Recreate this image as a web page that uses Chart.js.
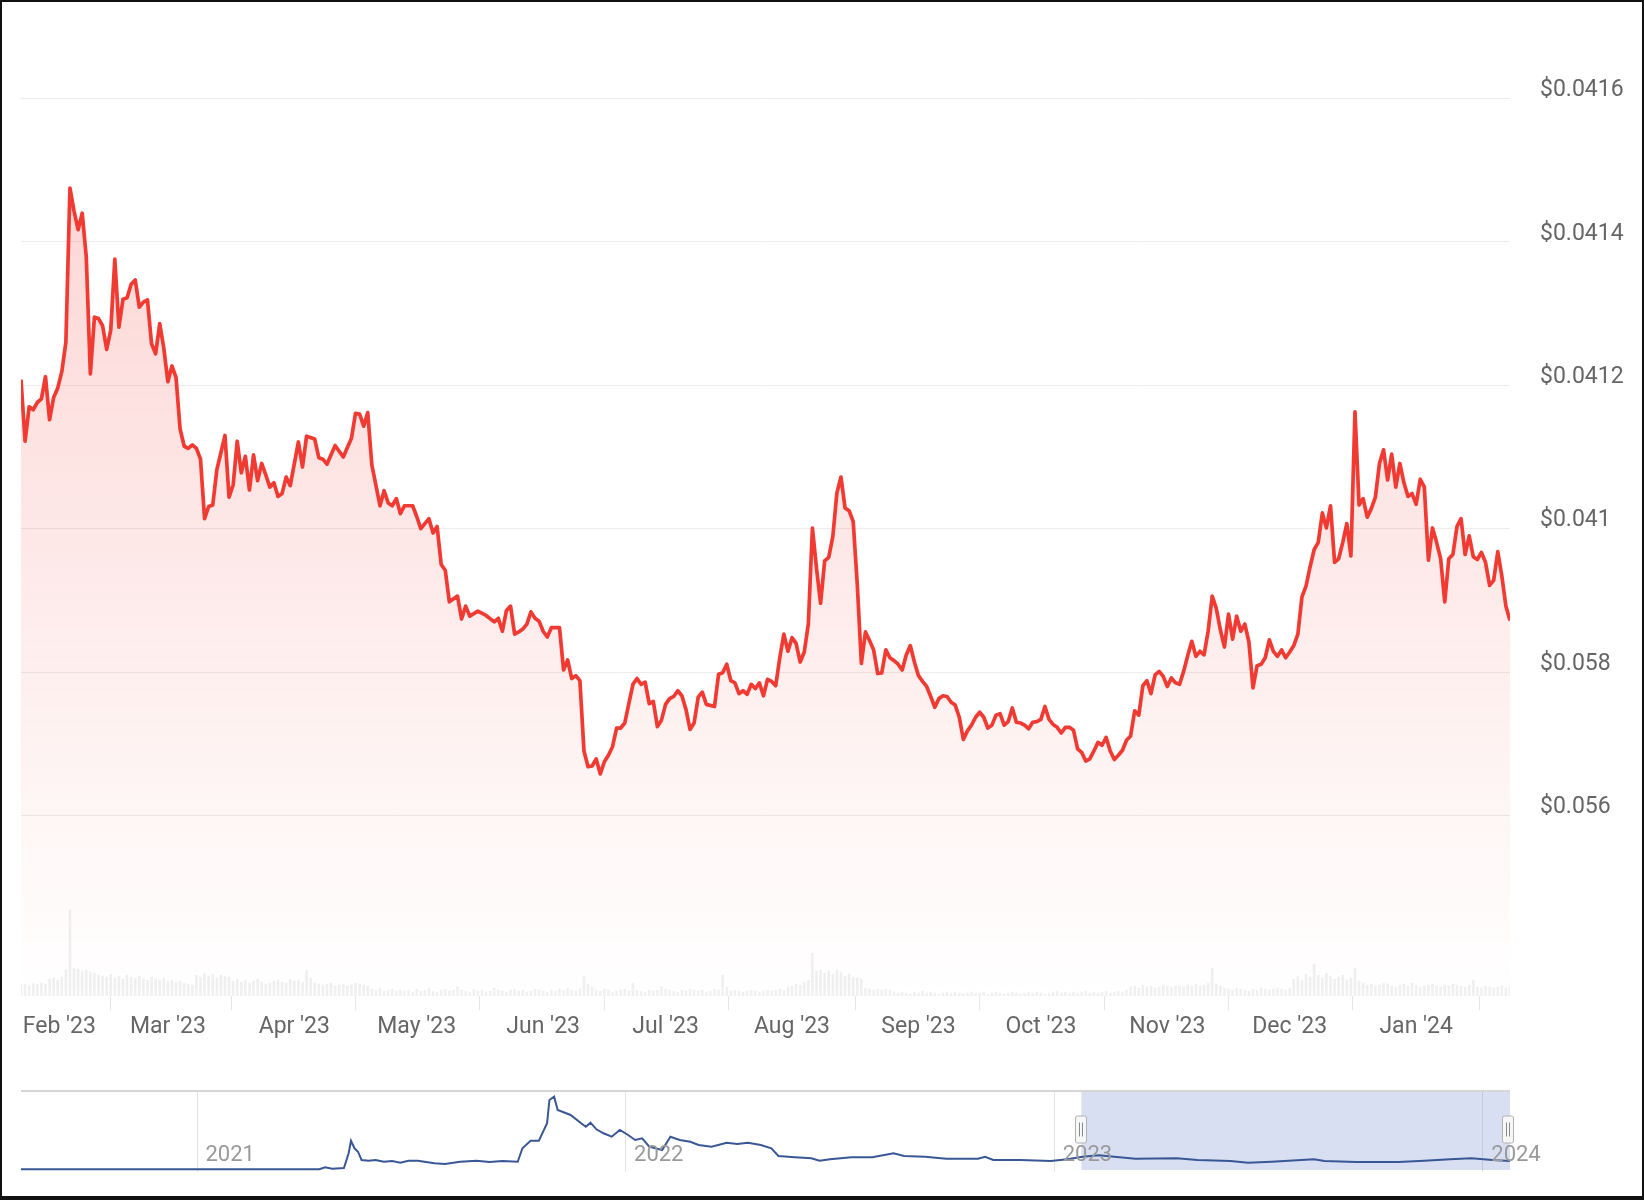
<!DOCTYPE html>
<html>
<head>
<meta charset="utf-8">
<script src="https://cdn.jsdelivr.net/npm/chart.js@4.4.1/dist/chart.umd.min.js"></script>
<style>
  html, body { margin: 0; padding: 0; background: #fff; }
  body { position: relative; width: 1644px; height: 1200px; overflow: hidden; }
  .wrap { position: absolute; left: 0; width: 1644px; }
  #mainWrap { top: 0; height: 1050px; }
  #navWrap { top: 1078px; height: 122px; }
  #frame {
    position: absolute; left: 0; top: 0; width: 1644px; height: 1200px;
    box-sizing: border-box; border: 2px solid #111; border-bottom-width: 4px;
    pointer-events: none;
  }
</style>
</head>
<body>
<div class="wrap" id="mainWrap"><canvas id="priceChart"></canvas></div>
<div class="wrap" id="navWrap"><canvas id="navChart"></canvas></div>
<div id="frame"></div>
<script>
// day numbers are counted from 1 Jan 2023 (day 0)
const priceDays = [
  23, 24, 25, 26, 27, 28, 29, 30, 31, 32, 33, 34, 35, 36, 37, 38, 39, 40, 41, 42,
  43, 44, 45, 46, 47, 48, 49, 50, 51, 52, 53, 54, 55, 56, 57, 58, 59, 60, 61, 62,
  63, 64, 65, 66, 67, 68, 69, 70, 71, 72, 73, 74, 75, 76, 77, 78, 79, 80, 81, 82,
  83, 84, 85, 86, 87, 88, 89, 91, 92, 93, 95, 96, 97, 98, 100, 102, 104, 105, 106, 107,
  108, 109, 111, 112, 113, 114, 115, 116, 117, 119, 120, 121, 123, 124, 125, 126, 127, 128, 130, 131,
  132, 133, 135, 137, 139, 140, 141, 142, 143, 144, 145, 146, 147, 148, 149, 150, 151, 152, 153, 155,
  156, 157, 158, 159, 160, 161, 162, 163, 164, 165, 166, 167, 168, 169, 170, 171, 172, 173, 174, 175,
  176, 177, 178, 179, 180, 181, 182, 183, 184, 185, 186, 187, 188, 189, 190, 191, 193, 194, 195, 196,
  197, 198, 199, 200, 201, 202, 203, 204, 205, 206, 207, 208, 209, 210, 211, 212, 213, 214, 215, 216,
  217, 218, 219, 220, 221, 222, 223, 224, 225, 226, 227, 228, 229, 230, 231, 232, 233, 234, 235, 236,
  237, 238, 239, 240, 241, 242, 243, 244, 245, 246, 247, 248, 249, 250, 251, 252, 253, 254, 255, 256,
  257, 258, 259, 260, 261, 262, 263, 264, 265, 266, 267, 268, 269, 270, 271, 272, 273, 274, 275, 276,
  277, 278, 279, 280, 281, 282, 283, 284, 285, 286, 287, 288, 289, 290, 291, 292, 293, 294, 295, 296,
  297, 298, 299, 300, 301, 302, 303, 304, 305, 306, 307, 308, 309, 310, 311, 312, 313, 314, 315, 316,
  317, 318, 319, 320, 321, 322, 323, 324, 325, 326, 327, 328, 329, 330, 331, 332, 333, 334, 335, 336,
  337, 338, 339, 340, 341, 342, 343, 344, 345, 346, 347, 348, 349, 350, 351, 352, 353, 354, 355, 356,
  357, 358, 359, 360, 361, 362, 363, 364, 365, 366, 367, 368, 369, 370, 371, 372, 373, 374, 375, 376,
  377, 378, 379, 380, 381, 382, 383, 384, 385, 386, 387, 388
];
const prices = [
  0.041208, 0.041122, 0.04117, 0.041166, 0.041176, 0.041181, 0.041212, 0.041152, 0.041183, 0.041196,
  0.041219, 0.04126, 0.041475, 0.041443, 0.041417, 0.04144, 0.041379, 0.041216, 0.041295, 0.041293,
  0.041283, 0.04125, 0.041277, 0.041376, 0.041281, 0.04132, 0.041322, 0.041341, 0.041347, 0.041309,
  0.041316, 0.041319, 0.041258, 0.041244, 0.041286, 0.041252, 0.041205, 0.041227, 0.041211, 0.041139,
  0.041115, 0.041112, 0.041117, 0.041112, 0.041097, 0.041014, 0.041031, 0.041033, 0.041082, 0.041106,
  0.04113, 0.041044, 0.041061, 0.041122, 0.041078, 0.041101, 0.041054, 0.041103, 0.041067, 0.041091,
  0.041075, 0.041058, 0.041064, 0.041045, 0.041049, 0.041072, 0.04106, 0.041121, 0.041086, 0.041129,
  0.041125, 0.041099, 0.041097, 0.04109, 0.041116, 0.0411, 0.041126, 0.041161, 0.04116, 0.041143,
  0.041162, 0.041089, 0.041032, 0.041053, 0.041036, 0.041032, 0.041042, 0.041021, 0.041032, 0.041032,
  0.041017, 0.041, 0.041014, 0.040994, 0.041003, 0.04095, 0.040942, 0.040898, 0.040906, 0.040874,
  0.040892, 0.040878, 0.040885, 0.040879, 0.04087, 0.040875, 0.040857, 0.040886, 0.040892, 0.040853,
  0.040856, 0.04086, 0.040867, 0.040884, 0.040875, 0.040871, 0.040857, 0.040849, 0.040862, 0.040862,
  0.040803, 0.040817, 0.040791, 0.040795, 0.040788, 0.04069, 0.040668, 0.040669, 0.040679, 0.040658,
  0.040675, 0.040684, 0.040696, 0.040722, 0.040722, 0.040729, 0.040756, 0.040783, 0.040791, 0.040783,
  0.040786, 0.040756, 0.040759, 0.040724, 0.040733, 0.040755, 0.040763, 0.040766, 0.040774, 0.040767,
  0.040748, 0.04072, 0.040729, 0.040765, 0.040772, 0.040755, 0.040752, 0.040797, 0.040799, 0.040811,
  0.040788, 0.040785, 0.04077, 0.040774, 0.040769, 0.040783, 0.040777, 0.040785, 0.040767, 0.04079,
  0.040787, 0.040781, 0.04082, 0.040853, 0.040829, 0.040848, 0.04084, 0.040814, 0.040828, 0.040867,
  0.041001, 0.040945, 0.040896, 0.040955, 0.04096, 0.040989, 0.04105, 0.041072, 0.041029, 0.041025,
  0.04101, 0.040922, 0.040812, 0.040856, 0.040844, 0.040831, 0.040798, 0.040799, 0.040831, 0.04082,
  0.040816, 0.040811, 0.040803, 0.040824, 0.040837, 0.040814, 0.040795, 0.040787, 0.04078, 0.040766,
  0.040751, 0.040763, 0.040767, 0.040766, 0.040758, 0.040754, 0.040737, 0.040706, 0.040718, 0.040726,
  0.040737, 0.040744, 0.040737, 0.040722, 0.040726, 0.04074, 0.040742, 0.040726, 0.040731, 0.04075,
  0.04073, 0.040729, 0.040726, 0.040721, 0.04073, 0.040731, 0.040734, 0.040752, 0.040734, 0.040727,
  0.040723, 0.040715, 0.040723, 0.040723, 0.040719, 0.040693, 0.040688, 0.040676, 0.040679, 0.04069,
  0.040702, 0.040698, 0.040709, 0.04069, 0.040678, 0.040684, 0.040691, 0.040705, 0.040711, 0.040746,
  0.04074, 0.040781, 0.040788, 0.04077, 0.040796, 0.040801, 0.040794, 0.04078, 0.040792, 0.040785,
  0.040783, 0.040801, 0.040823, 0.040843, 0.040822, 0.040829, 0.040824, 0.040857, 0.040906, 0.040889,
  0.040859, 0.040835, 0.040881, 0.040846, 0.040878, 0.040857, 0.040867, 0.040842, 0.040778, 0.040809,
  0.040811, 0.04082, 0.040845, 0.040829, 0.040822, 0.040831, 0.04082, 0.040828, 0.040837, 0.040853,
  0.040905, 0.04092, 0.040947, 0.040971, 0.040981, 0.041022, 0.041001, 0.041032, 0.040953, 0.040958,
  0.040981, 0.041007, 0.040962, 0.041163, 0.041033, 0.041042, 0.041016, 0.041028, 0.041044, 0.041091,
  0.04111, 0.041068, 0.041104, 0.041058, 0.041091, 0.041064, 0.041045, 0.041049, 0.041034, 0.041069,
  0.041058, 0.040956, 0.041001, 0.040981, 0.040958, 0.040898, 0.040958, 0.040964, 0.041003, 0.041014,
  0.040964, 0.04099, 0.040961, 0.040957, 0.040967, 0.040953, 0.040921, 0.040928, 0.040968, 0.040934,
  0.040892, 0.040872
];

// daily volume, first value is day 23
const volumeStartDay = 23;
const volumes = [
  110, 120, 105, 125, 115, 130, 120, 170, 180, 160, 190,
  260, 860, 280, 270, 250, 260, 240, 230,
  210, 200, 190, 220, 180, 200, 170, 210, 190, 180, 200, 170, 160, 190,
  170, 160, 180, 150, 160, 140, 150, 130, 120, 110,
  210, 190, 230, 200, 220, 180, 210, 200, 190,
  150, 170, 140, 160, 130, 150, 170, 140, 120, 130, 150, 160, 140, 130, 170, 150, 160, 140,
  260, 180,
  130, 120, 110, 120, 130, 100, 110, 120, 100, 110, 130, 120, 110, 100,
  70, 60, 80, 50, 60, 70, 50, 60,
  50, 60, 40, 70, 50, 60, 80, 50, 40, 60, 70, 50, 60, 90,
  60, 50, 40, 70, 50, 60, 40, 50, 80, 60, 50, 40, 60, 70, 50,
  60, 40, 50, 70, 60, 50, 40, 60, 50, 70, 60, 80, 60, 50, 70,
  200, 120, 90,
  60, 50, 70, 60, 40, 50, 60, 70, 50, 130, 60, 50, 40, 60, 50, 60, 90, 70, 60, 50,
  40, 60, 50, 70, 60, 50, 60, 40, 50, 70, 60,
  210, 90,
  50, 60, 50, 40, 50, 60, 50, 40, 50, 60, 50, 60, 70, 60,
  90, 100, 120, 110, 140, 160,
  430, 250, 260, 230, 250, 220, 260, 240, 200, 220, 190, 180, 170,
  80, 70, 60, 70, 60, 70, 60,
  40, 30, 40, 30, 20, 40, 30, 50, 30, 40, 30, 20, 30, 40,
  30, 40, 30, 20, 30, 40, 30, 30, 40, 20, 30, 40, 30, 20, 30,
  40, 30, 20, 30, 40, 30, 40, 30, 20, 30, 40, 50, 30, 40, 30,
  40, 30, 40, 50, 30, 40, 30, 40, 50, 30, 40, 50, 40, 60,
  90, 100, 80, 110, 90, 100, 80, 90, 110, 100, 90, 100,
  100, 90, 110, 100, 120, 100, 110, 130,
  280, 120, 100,
  80, 70, 60, 80, 70, 60, 50, 70, 60, 80, 70, 60, 70, 80, 70, 60, 80,
  170, 200, 160, 220, 190, 320, 210, 180, 230, 200, 170, 190, 210, 160, 180,
  280, 150,
  130, 110, 120, 100, 110, 130, 120, 100, 90, 110, 120, 100, 130, 110, 90, 100, 110, 120, 100, 90,
  110, 100, 120, 110, 100, 90, 110,
  160,
  90, 80, 100, 90, 80, 90, 100, 80, 90
];

const monthDays = [31, 59, 90, 120, 151, 181, 212, 243, 273, 304, 334, 365];
// the first label is pushed right a little so it stays inside the plot, as in the source
const monthLabels = ["  Feb '23", "Mar '23", "Apr '23", "May '23", "Jun '23", "Jul '23",
  "Aug '23", "Sep '23", "Oct '23", "Nov '23", "Dec '23", "Jan '24"];

const priceTicks = [0.0406, 0.0408, 0.041, 0.0412, 0.0414, 0.0416];
const priceTickLabels = ['$0.056', '$0.058', '$0.041', '$0.0412', '$0.0414', '$0.0416'];

// overview strip (navigator) - whole history
const navDays = [
  -880, -626, -621, -615, -605, -601, -599, -596, -593, -590, -584, -578, -571, -564, -557, -550,
  -542, -528, -519, -506, -492, -481, -470, -457, -453, -446, -439, -432, -430, -426, -423, -419,
  -412, -403, -399, -395, -390, -384, -377, -370, -363, -357, -351, -345, -334, -327, -319, -310,
  -303, -292, -279, -270, -261, -250, -241, -235, -221, -207, -200, -191, -173, -155, -137, -128,
  -110, -92, -65, -59, -52, -29, -3, 11, 24, 38, 51, 69, 104, 122, 150, 165,
  185, 221, 230, 257, 293, 315, 337, 355, 373, 388
];
const navPrices = [
  0.0092, 0.0092, 0.016, 0.0112, 0.0136, 0.0636, 0.1064, 0.0806, 0.069, 0.0408, 0.0384, 0.0408, 0.035, 0.0374, 0.0316, 0.0384,
  0.0384, 0.0296, 0.0272, 0.035, 0.0384, 0.034, 0.0374, 0.035, 0.0806, 0.1064, 0.1064, 0.1656, 0.2448, 0.256, 0.2108, 0.205,
  0.1938, 0.1656, 0.154, 0.1676, 0.1452, 0.1316, 0.12, 0.1428, 0.1258, 0.1088, 0.1146, 0.086, 0.0748, 0.12, 0.1088, 0.103,
  0.0918, 0.086, 0.0996, 0.0952, 0.0996, 0.0918, 0.0806, 0.0544, 0.05, 0.0466, 0.0384, 0.0432, 0.05, 0.05, 0.0636, 0.0544,
  0.052, 0.0452, 0.0452, 0.052, 0.0408, 0.0408, 0.0374, 0.0432, 0.052, 0.0568, 0.052, 0.0452, 0.0466, 0.0408, 0.0374, 0.0316,
  0.035, 0.0432, 0.0374, 0.034, 0.034, 0.0384, 0.0432, 0.0466, 0.0408, 0.0374
];
const yearDays = [-730, -365, 0, 365];
const yearLabels = ['2021', '2022', '2023', '2024'];
const selectedRange = [23, 388];

Chart.defaults.font.family = 'Roboto, "Noto Sans", sans-serif';
Chart.defaults.animation = false;

const textGray = '#666666';

new Chart(document.getElementById('priceChart'), {
  type: 'line',
  data: {
    datasets: [{
      type: 'line',
      data: priceDays.map((d, i) => ({ x: d, y: prices[i] })),
      yAxisID: 'y',
      borderColor: '#f03a32',
      borderWidth: 3.7,
      borderJoinStyle: 'round',
      pointRadius: 0,
      tension: 0,
      fill: 'start',
      backgroundColor: (ctx) => {
        const area = ctx.chart.chartArea;
        if (!area) return 'rgba(240,58,50,0.1)';
        const g = ctx.chart.ctx.createLinearGradient(0, area.top, 0, area.bottom);
        g.addColorStop(0, 'rgba(240,58,50,0.24)');
        g.addColorStop(1, 'rgba(240,58,50,0)');
        return g;
      },
      order: 0
    }, {
      type: 'bar',
      data: volumes.map((v, i) => ({ x: volumeStartDay + i, y: v })),
      yAxisID: 'vol',
      backgroundColor: 'rgba(0,0,0,0.06)',
      barThickness: 2,
      order: 1
    }]
  },
  options: {
    responsive: true,
    maintainAspectRatio: false,
    // the right axis adds about 44px on top for its labels
    layout: { padding: { left: 21, top: 0, right: 0, bottom: 0 } },
    plugins: { legend: { display: false }, tooltip: { enabled: false } },
    scales: {
      x: {
        type: 'linear',
        min: 23,
        max: 388,
        offset: false,
        border: { display: false },
        grid: { drawOnChartArea: false, drawTicks: true, tickLength: 14, color: '#e6e6e6' },
        ticks: {
          autoSkip: false,
          maxRotation: 0,
          padding: 3,
          color: textGray,
          font: { size: 23 },
          callback: (v) => monthLabels[monthDays.indexOf(v)]
        },
        afterBuildTicks: (scale) => { scale.ticks = monthDays.map(v => ({ value: v })); },
        afterFit: (scale) => { scale.height = 54; }
      },
      y: {
        position: 'right',
        min: 0.04034826,
        max: 0.04167629,
        border: { display: false },
        grid: { color: '#ececec', drawTicks: false },
        ticks: {
          padding: 30,
          labelOffset: -8,
          color: textGray,
          font: { size: 23 },
          callback: (v) => priceTickLabels[priceTicks.indexOf(v)]
        },
        afterBuildTicks: (scale) => { scale.ticks = priceTicks.map(v => ({ value: v })); },
        afterFit: (scale) => { scale.width = 134; }
      },
      vol: {
        position: 'right',
        display: false,
        min: 0,
        max: 9522
      }
    }
  }
});

// shaded selection and the two drag handles on the overview strip
const rangeBox = {
  id: 'rangeBox',
  beforeDatasetsDraw(chart) {
    const { ctx, chartArea, scales } = chart;
    const x1 = scales.x.getPixelForValue(selectedRange[0]);
    const x2 = scales.x.getPixelForValue(selectedRange[1]);
    ctx.save();
    ctx.fillStyle = 'rgba(102,128,204,0.25)';
    ctx.fillRect(x1, chartArea.top + 1, x2 - x1, chartArea.bottom - chartArea.top - 3);
    ctx.restore();
  },
  afterDraw(chart) {
    const { ctx, chartArea, scales } = chart;
    const cy = (chartArea.top + chartArea.bottom) / 2 - 2;
    for (const d of selectedRange) {
      let x = Math.round(scales.x.getPixelForValue(d));
      if (d === selectedRange[1]) x -= 2;
      ctx.save();
      ctx.fillStyle = '#f7f7f7';
      ctx.strokeStyle = '#b0b0b0';
      ctx.lineWidth = 1;
      ctx.beginPath();
      ctx.roundRect(x - 5.5, cy - 13.5, 11, 27, 2);
      ctx.fill();
      ctx.stroke();
      ctx.strokeStyle = '#8a8a8a';
      ctx.beginPath();
      ctx.moveTo(x - 1.5, cy - 7); ctx.lineTo(x - 1.5, cy + 7);
      ctx.moveTo(x + 1.5, cy - 7); ctx.lineTo(x + 1.5, cy + 7);
      ctx.stroke();
      ctx.restore();
    }
  }
};

new Chart(document.getElementById('navChart'), {
  type: 'line',
  data: {
    datasets: [{
      data: navDays.map((d, i) => ({ x: d, y: navPrices[i] })),
      borderColor: '#3a5795',
      borderWidth: 2,
      pointRadius: 0,
      tension: 0,
      fill: false
    }]
  },
  options: {
    responsive: true,
    maintainAspectRatio: false,
    layout: { padding: { left: 21, top: 13, right: 0, bottom: 0 } },
    plugins: { legend: { display: false }, tooltip: { enabled: false } },
    scales: {
      x: {
        type: 'linear',
        min: -880,
        max: 388,
        border: { display: false },
        grid: { color: '#e2e2e2', drawTicks: false },
        ticks: {
          autoSkip: false,
          maxRotation: 0,
          mirror: true,
          z: 1,
          padding: 3,
          labelOffset: 33,
          color: '#9a9a9a',
          font: { size: 22 },
          callback: (v) => yearLabels[yearDays.indexOf(v)]
        },
        afterBuildTicks: (scale) => { scale.ticks = yearDays.map(v => ({ value: v })); },
        afterFit: (scale) => { scale.height = 28; }
      },
      y: {
        position: 'right',
        min: 0,
        max: 0.2754,
        border: { display: false },
        grid: { color: '#d6d6d6', lineWidth: 2, drawTicks: false },
        ticks: { display: false },
        afterBuildTicks: (scale) => { scale.ticks = [{ value: 0.2754 }]; },
        afterFit: (scale) => { scale.width = 134; }
      }
    }
  },
  plugins: [rangeBox]
});
</script>
</body>
</html>
